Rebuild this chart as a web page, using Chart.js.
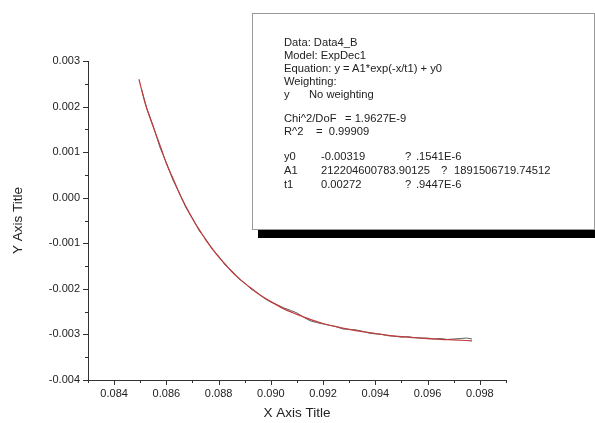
<!DOCTYPE html>
<html>
<head>
<meta charset="utf-8">
<script src="https://cdn.jsdelivr.net/npm/chart.js@4"></script>
<style>
  body { margin: 0; background: #fff; }
  #wrap { position: relative; width: 595px; height: 423px; }
  #fitBox {
    position: absolute; left: 252px; top: 13px; width: 341px; height: 215px;
    border: 1px solid #999; background: #fff; box-shadow: 6px 8px 0 #000;
    font-family: 'Liberation Sans', Arial, sans-serif; font-size: 11.2px; color: #222;
  }
  #fitBox span { position: absolute; white-space: pre; line-height: 13px; }
</style>
</head>
<body>
<div id="wrap">
  <canvas id="chart" width="595" height="423"></canvas>
  <div id="fitBox"></div>
</div>
<script>
const dataX = [0.08505, 0.08525, 0.0855, 0.08575, 0.086, 0.08625, 0.0865, 0.08675, 0.087, 0.08725,
  0.0875, 0.08775, 0.088, 0.08825, 0.0885, 0.08875, 0.089, 0.08925, 0.0895, 0.08975,
  0.09, 0.09025, 0.0905, 0.09075, 0.091, 0.09125, 0.0915, 0.09175, 0.092, 0.09225,
  0.0925, 0.09275, 0.093, 0.09325, 0.0935, 0.09375, 0.094, 0.09425, 0.0945, 0.09475,
  0.095, 0.09525, 0.0955, 0.09575, 0.096, 0.09625, 0.0965, 0.09675, 0.097, 0.09725,
  0.0975, 0.0977];
const dataY = [0.00238, 0.00196, 0.00157, 0.00111, 0.00077, 0.00039, 0.00010, -0.00022, -0.00045, -0.00072,
  -0.00090, -0.00113, -0.00128, -0.00148, -0.00160, -0.00177, -0.00187, -0.00201, -0.00209, -0.00221,
  -0.00229, -0.00235, -0.00242, -0.00247, -0.00253, -0.00262, -0.00270, -0.00274, -0.00277, -0.00280,
  -0.00283, -0.00288, -0.00289, -0.00290, -0.00293, -0.00297, -0.00299, -0.00300, -0.00303, -0.00304,
  -0.00306, -0.00305, -0.00307, -0.00308, -0.00308, -0.00310, -0.00309, -0.00311, -0.00310, -0.00309,
  -0.00308, -0.00310];

// fitted curve (red)
const fitX = [0.08495, 0.0852, 0.0855, 0.0858, 0.086, 0.0863, 0.0865, 0.0868, 0.087, 0.0873,
  0.0875, 0.0878, 0.088, 0.0883, 0.0885, 0.0888, 0.089, 0.0893, 0.0895, 0.0898,
  0.09, 0.0905, 0.091, 0.0915, 0.092, 0.0925, 0.093, 0.0935, 0.094, 0.0945,
  0.095, 0.0955, 0.096, 0.0965, 0.097, 0.0977];
const fitY = [0.00260, 0.00205, 0.00155, 0.00108, 0.00075, 0.00036, 0.00009, -0.00025, -0.00046, -0.00074,
  -0.00092, -0.00115, -0.00130, -0.00149, -0.00162, -0.00178, -0.00188, -0.00201, -0.00210, -0.00221,
  -0.00228, -0.00244, -0.00256, -0.00267, -0.00276, -0.00283, -0.00289, -0.00294, -0.00298, -0.00302,
  -0.00305, -0.00307, -0.00309, -0.00311, -0.00312, -0.00314];

const xMin = 0.083, xMax = 0.099;
const yMin = -0.004, yMax = 0.003;

// fit report lines: [text, left, top]
const boxLines = [
  ['Data: Data4_B', 31, 22],
  ['Model: ExpDec1', 31, 35],
  ['Equation: y = A1*exp(-x/t1) + y0', 31, 48],
  ['Weighting:', 31, 61],
  ['y', 31, 74], ['No weighting', 56, 74],
  ['Chi^2/DoF', 31, 98], ['= 1.9627E-9', 92, 98],
  ['R^2', 31, 111], ['=  0.99909', 63, 111],
  ['y0', 31, 136], ['-0.00319', 68, 136], ['?', 152, 136], ['.1541E-6', 163, 136],
  ['A1', 31, 150], ['212204600783.90125', 68, 150], ['?', 188, 150], ['1891506719.74512', 201, 150],
  ['t1', 31, 164], ['0.00272', 68, 164], ['?', 152, 164], ['.9447E-6', 163, 164]
];

const box = document.getElementById('fitBox');
boxLines.forEach(([t, l, tp]) => {
  const s = document.createElement('span');
  s.textContent = t;
  s.style.left = l + 'px';
  s.style.top = tp + 'px';
  box.appendChild(s);
});

function onGrid(v, per) {
  return Math.abs(v * per - Math.round(v * per)) < 1e-6;
}

// Origin style outward ticks, major and minor
const tickPlugin = {
  id: 'originTicks',
  afterDraw(chart) {
    const ctx = chart.ctx;
    const area = chart.chartArea;
    const xs = chart.scales.x, ys = chart.scales.y;
    ctx.save();
    ctx.strokeStyle = '#333';
    ctx.lineWidth = 1;
    ctx.beginPath();
    xs.ticks.forEach(t => {
      const px = Math.round(xs.getPixelForValue(t.value)) + 0.5;
      const len = onGrid(t.value, 500) ? 5 : 3;
      ctx.moveTo(px, area.bottom);
      ctx.lineTo(px, area.bottom + len);
    });
    ys.ticks.forEach(t => {
      const py = Math.round(ys.getPixelForValue(t.value)) + 0.5;
      const len = onGrid(t.value, 1000) ? 5 : 3;
      ctx.moveTo(area.left, py);
      ctx.lineTo(area.left - len, py);
    });
    ctx.stroke();
    ctx.restore();
  }
};

const font = {family: "'Liberation Sans', Arial, sans-serif", size: 11};

new Chart(document.getElementById('chart'), {
  type: 'scatter',
  data: {
    datasets: [{
      label: 'Data4_B',
      data: dataX.map((x, i) => ({x: x, y: dataY[i]})),
      showLine: true,
      borderColor: 'rgb(95,95,95)',
      borderWidth: 1,
      pointRadius: 0,
      order: 2
    }, {
      label: 'ExpDec1',
      data: fitX.map((x, i) => ({x: x, y: fitY[i]})),
      showLine: true,
      borderColor: 'rgb(190,60,60)',
      borderWidth: 1.2,
      pointRadius: 0,
      cubicInterpolationMode: 'monotone',
      order: 1
    }]
  },
  options: {
    responsive: false,
    animation: false,
    devicePixelRatio: 1,
    layout: {padding: {top: 61, right: 89, left: 0, bottom: 0}},
    plugins: {legend: {display: false}, tooltip: {enabled: false}},
    scales: {
      x: {
        type: 'linear', min: xMin, max: xMax,
        afterFit: s => { s.height = 43; },
        border: {display: true, color: '#333', width: 1},
        grid: {drawOnChartArea: false, tickLength: 6, tickColor: 'transparent'},
        ticks: {
          stepSize: 0.001, autoSkip: false, maxRotation: 0, padding: 1,
          color: '#222', font: font,
          callback: v => onGrid(v, 500) ? v.toFixed(3) : ''
        },
        title: {display: true, text: 'X Axis Title', color: '#222',
          font: {family: font.family, size: 13.5}, padding: {top: 0, bottom: 2}}
      },
      y: {
        type: 'linear', min: yMin, max: yMax,
        afterFit: s => { s.width = 88; },
        border: {display: true, color: '#333', width: 1},
        grid: {drawOnChartArea: false, tickLength: 6, tickColor: 'transparent'},
        ticks: {
          stepSize: 0.0005, autoSkip: false, padding: 2,
          color: '#222', font: font,
          callback: v => onGrid(v, 1000) ? v.toFixed(3) : ''
        },
        title: {display: true, text: 'Y Axis Title', color: '#222',
          font: {family: font.family, size: 13.5}, padding: {top: 10, bottom: 0}}
      }
    }
  },
  plugins: [tickPlugin]
});
</script>
</body>
</html>
